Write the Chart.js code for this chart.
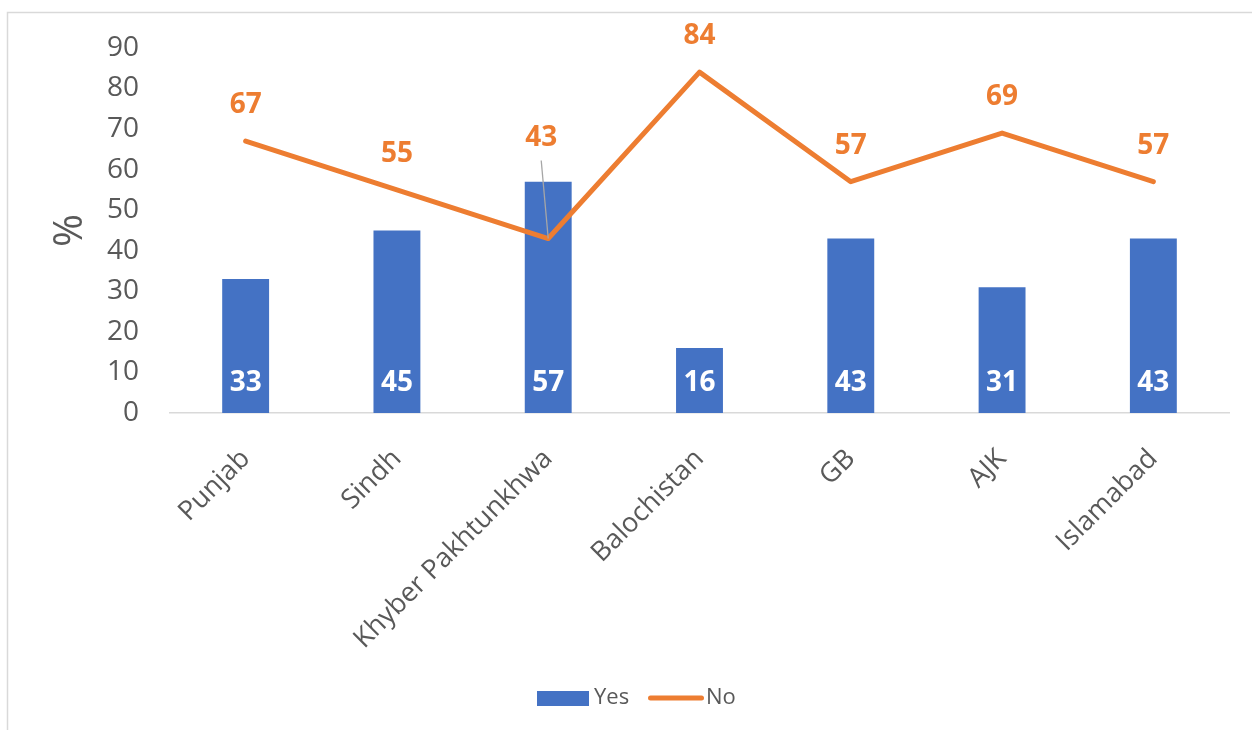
<!DOCTYPE html>
<html>
<head>
<meta charset="utf-8">
<script src="https://cdn.jsdelivr.net/npm/chart.js@4.4.0/dist/chart.umd.min.js"></script>
<style>
html,body{margin:0;padding:0;background:#ffffff;}
#wrap{position:relative;width:1252px;height:730px;overflow:hidden;}
canvas{display:block;}
</style>
</head>
<body>
<div id="wrap"><canvas id="c" width="1252" height="730"></canvas></div>
<script>
// ---- data ----
const categories = ['Punjab', 'Sindh', 'Khyber Pakhtunkhwa', 'Balochistan', 'GB', 'AJK', 'Islamabad'];
const yesValues = [33, 45, 57, 16, 43, 31, 43];
const noValues = [67, 55, 43, 84, 57, 69, 57];
const yTicks = [0, 10, 20, 30, 40, 50, 60, 70, 80, 90];
const seriesNames = ['Yes', 'No'];
const yAxisTitle = '%';

const BLUE = '#4472C4';
const ORANGE = '#ED7D31';
const GREY_TEXT = '#595959';
const FONT = '"Open Sans", "DejaVu Sans", sans-serif';

const decorPlugin = {
  id: 'decor',
  beforeDraw(chart) {
    const ctx = chart.ctx;
    ctx.save();
    ctx.strokeStyle = '#d9d9d9';
    ctx.lineWidth = 1.5;
    ctx.beginPath();
    ctx.moveTo(7.5, 740);
    ctx.lineTo(7.5, 12.5);
    ctx.lineTo(1260, 12.5);
    ctx.stroke();
    ctx.restore();
  },
  afterDatasetsDraw(chart, args, opts) {
    const ctx = chart.ctx;
    ctx.save();
    ctx.textAlign = 'center';
    ctx.textBaseline = 'middle';
    ctx.font = 'bold 28px ' + FONT;
    const barMeta = chart.getDatasetMeta(0);
    const barData = chart.data.datasets[0].data;
    barMeta.data.forEach((el, i) => {
      ctx.fillStyle = '#ffffff';
      ctx.fillText(String(barData[i]), el.x, el.base - 30);
    });
    const lineMeta = chart.getDatasetMeta(1);
    const lineData = chart.data.datasets[1].data;
    lineMeta.data.forEach((el, i) => {
      let lx = el.x, ly = el.y - 36;
      if (i === opts.leaderIndex) {
        lx = el.x - 7;
        ly = el.y - 100;
        ctx.strokeStyle = '#a6a6a6';
        ctx.lineWidth = 1.3;
        ctx.beginPath();
        ctx.moveTo(lx, ly + 22);
        ctx.lineTo(el.x, el.y);
        ctx.stroke();
      }
      ctx.fillStyle = ORANGE;
      ctx.fillText(String(lineData[i]), lx, ly);
    });
    ctx.restore();
  },
  afterDraw(chart) {
    const ctx = chart.ctx;
    ctx.save();
    const cy = 698;
    ctx.fillStyle = BLUE;
    ctx.fillRect(537, 691, 52, 15);
    ctx.font = '22px ' + FONT;
    ctx.fillStyle = GREY_TEXT;
    ctx.textAlign = 'left';
    ctx.textBaseline = 'middle';
    ctx.fillText(seriesNames[0], 594, cy);
    ctx.strokeStyle = ORANGE;
    ctx.lineWidth = 5;
    ctx.lineCap = 'round';
    ctx.beginPath();
    ctx.moveTo(650.5, cy);
    ctx.lineTo(701.5, cy);
    ctx.stroke();
    ctx.fillStyle = GREY_TEXT;
    ctx.fillText(seriesNames[1], 706, cy);
    ctx.restore();
  }
};

new Chart(document.getElementById('c'), {
  data: {
    labels: categories,
    datasets: [
      {
        type: 'bar',
        label: seriesNames[0],
        data: yesValues,
        backgroundColor: BLUE,
        borderWidth: 0,
        barPercentage: 0.31,
        categoryPercentage: 1.0,
        order: 2
      },
      {
        type: 'line',
        label: seriesNames[1],
        data: noValues,
        borderColor: ORANGE,
        backgroundColor: ORANGE,
        borderWidth: 5,
        borderCapStyle: 'round',
        borderJoinStyle: 'round',
        pointRadius: 0,
        tension: 0,
        fill: false,
        order: 1
      }
    ]
  },
  options: {
    responsive: false,
    animation: false,
    devicePixelRatio: 1,
    layout: { padding: { left: 0, right: 23, top: 44, bottom: 0 } },
    plugins: {
      legend: { display: false },
      tooltip: { enabled: false },
      decor: { leaderIndex: 2 }
    },
    scales: {
      x: {
        offset: true,
        grid: { display: false, drawTicks: false },
        border: { display: true, color: '#d9d9d9', width: 1.5 },
        ticks: {
          color: GREY_TEXT,
          font: { family: FONT, size: 27 },
          minRotation: 45,
          maxRotation: 45,
          padding: 30,
          autoSkip: false
        },
        afterFit(s) { s.height = 730 - 413; }
      },
      y: {
        min: 0,
        max: 90,
        grid: { display: false, drawTicks: false },
        border: { display: false },
        ticks: {
          color: GREY_TEXT,
          font: { family: FONT, size: 28 },
          padding: 31,
          stepSize: 10
        },
        afterBuildTicks(s) { s.ticks = yTicks.map(v => ({ value: v })); },
        title: {
          display: true,
          text: yAxisTitle,
          color: GREY_TEXT,
          font: { family: FONT, size: 40, weight: 'normal' },
          padding: { top: 47, bottom: 0 }
        },
        afterFit(s) { s.width = 170; }
      }
    }
  },
  plugins: [decorPlugin]
});
</script>
</body>
</html>
